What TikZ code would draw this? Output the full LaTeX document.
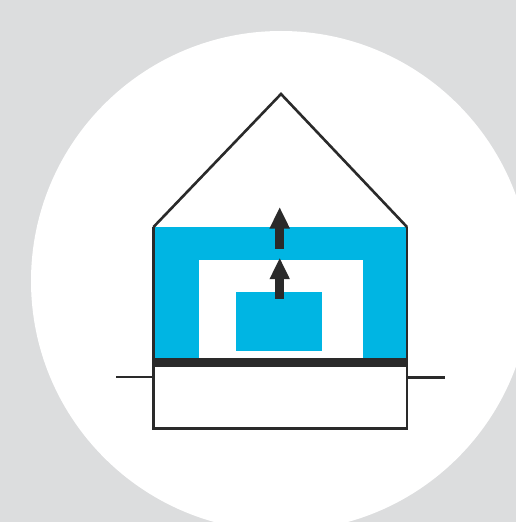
\documentclass[tikz,border=0pt]{standalone}
\usetikzlibrary{arrows.meta, positioning}
\definecolor{fondo}{HTML}{DCDDDE}
\definecolor{azul}{HTML}{00B5E3}
\definecolor{oscuro}{HTML}{2A2A2A}
\begin{document}
\begin{tikzpicture}[
		x=0.2mm, y=-0.2mm,
		% --- estilos ---
		wall_line/.style = {draw=oscuro, line width=0.52mm},
		warm_zone/.style = {fill=azul, draw=none},
		floor_band/.style = {fill=oscuro, draw=none},
		flow_up/.style = {-{Triangle[length=4.3mm, width=3.75mm]}, draw=oscuro, line width=1.87mm}
		]
		
		% =========================================================================
		% 1. FONDO
		% =========================================================================
		\useasboundingbox (0,0) rectangle (516,522);
		\clip (0,0) rectangle (516,522);
		\fill[fondo] (0,0) rectangle (516,522);
		\fill[white] (281,281) circle [radius=250];
		
		% =========================================================================
		% 2. PUNTOS DE LA CASA
		% =========================================================================
		\coordinate (roof_top) at (281,94);
		\coordinate (wall_tl) at (153.5,227);
		\coordinate (wall_tr) at (407,227);
		\coordinate (base_bl) at (153.5,428.7);
		\coordinate (base_br) at (407,428.7);
		\coordinate (ground_l) at (116,377);
		\coordinate (ground_r) at (445,377.5);
		
		% =========================================================================
		% 3. ZONAS
		% =========================================================================
		\fill[warm_zone] (wall_tl) rectangle (407,358);
		\fill[white] (199.3,259.7) rectangle (362.7,358);
		\fill[warm_zone] (236,291.7) rectangle (322.3,351);
		\fill[floor_band] (153.5,357.7) rectangle (407,366.7);
		
		% =========================================================================
		% 4. CONTORNO Y TERRENO
		% =========================================================================
		\draw[wall_line, line join=miter] (wall_tl) -- (roof_top) -- (wall_tr);
		\draw[wall_line] (wall_tl) -- (base_bl) -- (base_br) -- (wall_tr);
		\draw[wall_line] (ground_l) -- (ground_l -| wall_tl);
		\draw[wall_line] (ground_r -| wall_tr) -- (ground_r);
		
		% =========================================================================
		% 5. FLECHAS
		% =========================================================================
		\coordinate (flow_a) at (279.7,298.7);
		\coordinate (flow_b) at (279.7,257.7);
		\coordinate (flow_c) at (279.7,248.7);
		\coordinate (flow_d) at (279.7,207);
		\draw[flow_up] (flow_a) -- (flow_b);
		\draw[flow_up] (flow_c) -- (flow_d);
		
	\end{tikzpicture}
\end{document}
